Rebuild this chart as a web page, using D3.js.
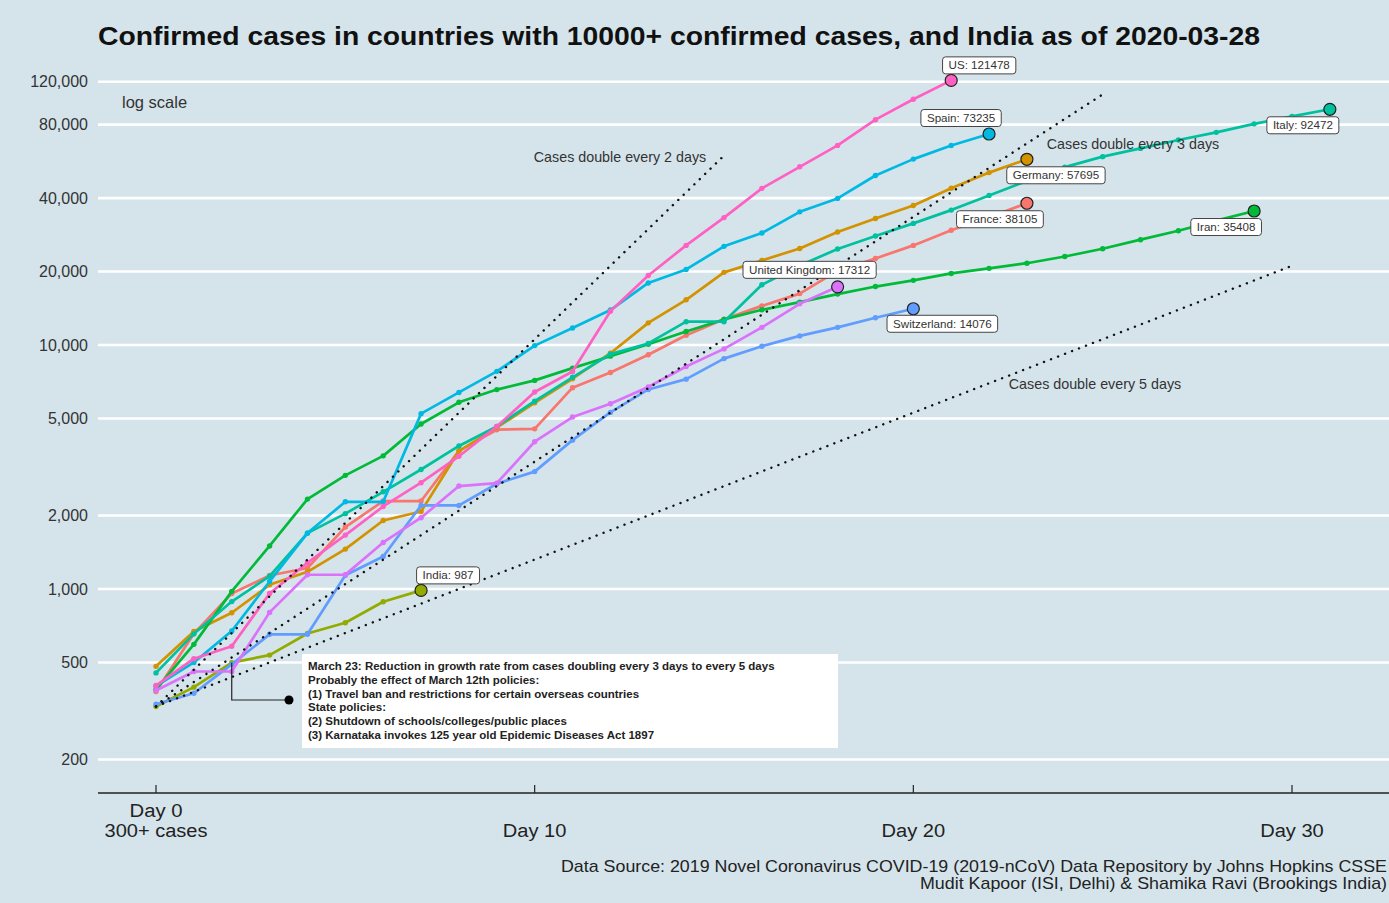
<!DOCTYPE html>
<html>
<head>
<meta charset="utf-8">
<script src="https://cdn.jsdelivr.net/npm/d3@7"></script>
<style>
  body { margin: 0; background: #d5e4eb; }
  svg { display: block; font-family: "Liberation Sans", Arial, sans-serif; }
</style>
</head>
<body>
<svg id="chart" width="1389" height="903"></svg>
<script>
// ---- data: confirmed cases by day since each country passed 300 cases ----
const countries = ["France", "Germany", "India", "Iran", "Italy", "Spain", "Switzerland", "United Kingdom", "US"];
const seriesColors = ["#F8766D", "#D39200", "#93AA00", "#00BA38", "#00C19F", "#00B9E3", "#619CFF", "#DB72FB", "#FF61C3"];

const france = [380, 656, 959, 1136, 1219, 1794, 2293, 2293, 3681, 4496, 4532, 6683, 7715, 9124, 10970, 12758, 14463, 16243, 20123, 22622, 25600, 29551, 33402, 38105];
const germany = [482, 670, 799, 1040, 1176, 1457, 1908, 2078, 3675, 4585, 5795, 7272, 9257, 12327, 15320, 19848, 22213, 24873, 29056, 32986, 37323, 43938, 50871, 57695];
const india = [330, 396, 499, 536, 657, 727, 887, 987];
const iran = [388, 593, 978, 1501, 2336, 2922, 3513, 4747, 5823, 6566, 7161, 8042, 9000, 10075, 11364, 12729, 13938, 14991, 16169, 17361, 18407, 19644, 20610, 21638, 23049, 24811, 27017, 29406, 32332, 35408];
const italy = [453, 655, 888, 1128, 1694, 2036, 2502, 3089, 3858, 4636, 5883, 7375, 9172, 10149, 12462, 12462, 17660, 21157, 24747, 27980, 31506, 35713, 41035, 47021, 53578, 59138, 63927, 69176, 74386, 80589, 86498, 92472];
const spain = [400, 500, 673, 1073, 1695, 2277, 2277, 5232, 6391, 7798, 9942, 11748, 13910, 17963, 20410, 25374, 28768, 35136, 39885, 49515, 57786, 65719, 73235];
const switzerland = [337, 374, 491, 652, 652, 1139, 1359, 2200, 2200, 2700, 3028, 4075, 5294, 6575, 7245, 8795, 9877, 10897, 11811, 12928, 14076];
const unitedKingdom = [384, 459, 459, 802, 1144, 1145, 1551, 1960, 2642, 2716, 4014, 5067, 5745, 6726, 8164, 9640, 11812, 14745, 17312];
const us = [402, 518, 583, 959, 1281, 1663, 2179, 2727, 3499, 4632, 6421, 7783, 13747, 19273, 25600, 33276, 43847, 53740, 65778, 83836, 101657, 121478];

const seriesValues = [france, germany, india, iran, italy, spain, switzerland, unitedKingdom, us];

// axis ticks
const xTickDays = [0, 10, 20, 30];
const xTickLabels = [["Day 0", "300+ cases"], ["Day 10"], ["Day 20"], ["Day 30"]];
const yTickValues = [200, 500, 1000, 2000, 5000, 10000, 20000, 40000, 80000, 120000];

// reference doubling-time guides
const doublingDays = [2, 3, 5];
const doublingLastDay = [15, 25, 30];
const doublingStart = 330;
const doublingLabels = ["Cases double every 2 days", "Cases double every 3 days", "Cases double every 5 days"];

// end-of-line label offsets (px) from the final point
const labelOffsets = [[-27, 16], [29, 16], [27, -15], [-28, 16], [-27, 16], [-28, -16], [29, 15], [-28, -17], [28, -15]];

const noteLines = [
  "March 23: Reduction in growth rate from cases doubling every 3 days to every 5 days",
  "Probably the effect of March 12th policies:",
  "(1) Travel ban and restrictions for certain overseas countries",
  "State policies:",
  "(2) Shutdown of schools/colleges/public places",
  "(3) Karnataka invokes 125 year old Epidemic Diseases Act 1897"
];
const noteDay = 2; // March 23 for India

const titleText = "Confirmed cases in countries with 10000+ confirmed cases, and India as of 2020-03-28";
const sourceLines = [
  "Data Source: 2019 Novel Coronavirus COVID-19 (2019-nCoV) Data Repository by Johns Hopkins CSSE",
  "Mudit Kapoor (ISI, Delhi) & Shamika Ravi (Brookings India)"
];

// ---- layout ----
const W = 1389, H = 903;
const panelLeft = 98, panelRight = W;
const axisY = 793;

const svg = d3.select("#chart");
const x = d3.scaleLinear().domain([0, 30]).range([156, 1292]);
const y = d3.scaleLog().domain([1000, 10000]).range([589, 345]);

svg.append("rect").attr("width", W).attr("height", H).attr("fill", "#d5e4eb");

// horizontal grid
svg.append("g").selectAll("line").data(yTickValues).join("line")
  .attr("x1", panelLeft).attr("x2", panelRight)
  .attr("y1", d => y(d)).attr("y2", d => y(d))
  .attr("stroke", "#ffffff").attr("stroke-width", 2.6);

// y tick labels
svg.append("g").selectAll("text").data(yTickValues).join("text")
  .attr("x", 88).attr("y", d => y(d)).attr("dy", "0.35em")
  .attr("text-anchor", "end").attr("font-size", 16).attr("fill", "#333")
  .text(d => d3.format(",")(d));

svg.append("text").attr("x", 122).attr("y", 102).attr("dy", "0.35em")
  .attr("font-size", 16.5).attr("fill", "#333").text("log scale");

// title
svg.append("text").attr("x", panelLeft).attr("y", 45)
  .attr("font-size", 26).attr("font-weight", "bold").attr("fill", "#111")
  .attr("textLength", 1162).attr("lengthAdjust", "spacingAndGlyphs")
  .text(titleText);

// country lines
const line = d3.line().x((d, i) => x(i)).y(d => y(d));
const groups = svg.append("g").selectAll("g").data(seriesValues).join("g");
groups.append("path")
  .attr("d", d => line(d))
  .attr("fill", "none")
  .attr("stroke", (d, i) => seriesColors[i])
  .attr("stroke-width", 2.7)
  .attr("stroke-linejoin", "round");
groups.each(function(vals, si) {
  d3.select(this).selectAll("circle").data(vals).join("circle")
    .attr("cx", (d, i) => x(i)).attr("cy", d => y(d)).attr("r", 2.7)
    .attr("fill", seriesColors[si]);
});

// doubling-time guides
doublingDays.forEach((dd, k) => {
  const pts = d3.range(0, doublingLastDay[k] + 0.001, 0.5).map(t => [t, doublingStart * Math.pow(2, t / dd)]);
  svg.append("path")
    .attr("d", d3.line().x(p => x(p[0])).y(p => y(p[1]))(pts))
    .attr("fill", "none").attr("stroke", "#111").attr("stroke-width", 2.4)
    .attr("stroke-linecap", "round").attr("stroke-dasharray", "0.1 7.4");
});
const guideLabelPos = [[620, 157], [1133, 144], [1095, 384]];
svg.append("g").selectAll("text").data(doublingLabels).join("text")
  .attr("x", (d, i) => guideLabelPos[i][0]).attr("y", (d, i) => guideLabelPos[i][1])
  .attr("dy", "0.35em").attr("text-anchor", "middle")
  .attr("font-size", 14.3).attr("fill", "#333").text(d => d);

// end points
svg.append("g").selectAll("circle").data(seriesValues).join("circle")
  .attr("cx", d => x(d.length - 1)).attr("cy", d => y(d[d.length - 1]))
  .attr("r", 6).attr("fill", (d, i) => seriesColors[i])
  .attr("stroke", "#222").attr("stroke-width", 1.2);

// end labels
const labelG = svg.append("g").selectAll("g").data(seriesValues).join("g")
  .attr("transform", (d, i) => `translate(${x(d.length - 1) + labelOffsets[i][0]},${y(d[d.length - 1]) + labelOffsets[i][1]})`);
labelG.append("text")
  .attr("text-anchor", "middle").attr("dy", "0.35em")
  .attr("font-size", 11.6).attr("fill", "#333")
  .text((d, i) => `${countries[i]}: ${d[d.length - 1]}`);
labelG.each(function() {
  const g = d3.select(this);
  const bb = g.select("text").node().getBBox();
  g.insert("rect", "text")
    .attr("x", bb.x - 6).attr("y", -8.5).attr("width", bb.width + 12).attr("height", 17)
    .attr("rx", 3).attr("fill", "#fff").attr("stroke", "#444").attr("stroke-width", 1);
});

// annotation for India
const ix = x(noteDay), iy = y(india[noteDay]);
svg.append("path")
  .attr("d", `M${ix},${iy} V700 H289`)
  .attr("fill", "none").attr("stroke", "#222").attr("stroke-width", 1.2);
svg.append("circle").attr("cx", 289).attr("cy", 700).attr("r", 4.5).attr("fill", "#000");
svg.append("rect").attr("x", 302).attr("y", 654).attr("width", 536).attr("height", 94)
  .attr("fill", "#fff");
svg.append("g").selectAll("text").data(noteLines).join("text")
  .attr("x", 308).attr("y", (d, i) => 666 + i * 13.8).attr("dy", "0.35em")
  .attr("font-size", 11.5).attr("font-weight", "bold").attr("fill", "#222")
  .text(d => d);

// x axis
svg.append("line").attr("x1", panelLeft).attr("x2", panelRight)
  .attr("y1", axisY).attr("y2", axisY).attr("stroke", "#222").attr("stroke-width", 1.3);
svg.append("g").selectAll("line").data(xTickDays).join("line")
  .attr("x1", d => x(d)).attr("x2", d => x(d))
  .attr("y1", axisY - 8).attr("y2", axisY)
  .attr("stroke", "#222").attr("stroke-width", 1.2);
// tick labels: one text per line, slightly widened like the axis font
const xLabelRows = [];
xTickDays.forEach((d, i) => {
  const lines = xTickLabels[i];
  lines.forEach((s, j) => xLabelRows.push({ day: d, text: s, row: lines.length - 1 - j }));
});
svg.append("g").selectAll("text").data(xLabelRows).join("text")
  .attr("x", r => x(r.day)).attr("y", r => 831 - r.row * 20.5).attr("dy", "0.35em")
  .attr("text-anchor", "middle").attr("font-size", 18).attr("fill", "#222")
  .attr("textLength", r => r.text.length * (r.text === "300+ cases" ? 10.3 : 10.6))
  .attr("lengthAdjust", "spacingAndGlyphs")
  .text(r => r.text);

// source
const sourceWidths = [826, 467];
svg.append("g").selectAll("text").data(sourceLines).join("text")
  .attr("x", 1387).attr("y", (d, i) => 866 + i * 17).attr("dy", "0.35em")
  .attr("text-anchor", "end").attr("font-size", 17).attr("fill", "#222")
  .attr("textLength", (d, i) => sourceWidths[i]).attr("lengthAdjust", "spacingAndGlyphs")
  .text(d => d);
</script>
</body>
</html>
